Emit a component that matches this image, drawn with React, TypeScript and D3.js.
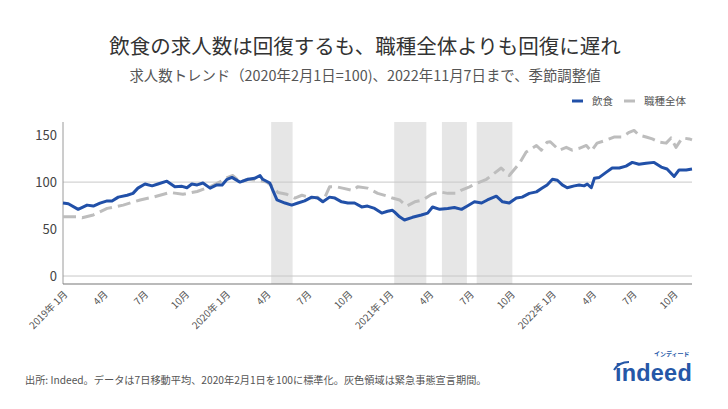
import React from "react";
import * as d3 from "d3";

const TITLE = "飲食の求人数は回復するも、職種全体よりも回復に遅れ";
const SUBTITLE = "求人数トレンド（2020年2月1日=100)、2022年11月7日まで、季節調整値";
const FOOTER = "出所: Indeed。データは7日移動平均、2020年2月1日を100に標準化。灰色領域は緊急事態宣言期間。";
const SERIES_NAMES = ["飲食", "職種全体"];

const yTicks = [0, 50, 100, 150];
const gridValues = [0, 100];

const xTicks: [string, string][] = [
  ["2019-01-01", "2019年 1月"], ["2019-04-01", "4月"], ["2019-07-01", "7月"], ["2019-10-01", "10月"],
  ["2020-01-01", "2020年 1月"], ["2020-04-01", "4月"], ["2020-07-01", "7月"], ["2020-10-01", "10月"],
  ["2021-01-01", "2021年 1月"], ["2021-04-01", "4月"], ["2021-07-01", "7月"], ["2021-10-01", "10月"],
  ["2022-01-01", "2022年 1月"], ["2022-04-01", "4月"], ["2022-07-01", "7月"], ["2022-10-01", "10月"],
];

const emergencyPeriods: [string, string][] = [
  ["2020-04-07", "2020-05-25"],
  ["2021-01-08", "2021-03-21"],
  ["2021-04-25", "2021-06-20"],
  ["2021-07-12", "2021-09-30"],
];

const foodService: [string, number][] = [
  ["2018-12-27", 77.7], ["2019-01-08", 77], ["2019-01-30", 71], ["2019-02-19", 75.5], ["2019-03-05", 74.5],
  ["2019-03-20", 77.6], ["2019-04-05", 80], ["2019-04-16", 79.8], ["2019-04-30", 84], ["2019-05-20", 86],
  ["2019-06-02", 88], ["2019-06-13", 93.6], ["2019-06-29", 98], ["2019-07-15", 96], ["2019-07-28", 98],
  ["2019-08-17", 101], ["2019-09-04", 95], ["2019-09-20", 95.5], ["2019-10-01", 94], ["2019-10-12", 98],
  ["2019-10-24", 97], ["2019-11-06", 99], ["2019-11-22", 93.6], ["2019-12-07", 97], ["2019-12-19", 97],
  ["2019-12-30", 103], ["2020-01-10", 105], ["2020-01-28", 100], ["2020-02-15", 103], ["2020-03-01", 104],
  ["2020-03-13", 107], ["2020-03-19", 103], ["2020-04-04", 99], ["2020-04-11", 91], ["2020-04-20", 81],
  ["2020-05-08", 77.7], ["2020-05-23", 75.5], ["2020-06-06", 77.7], ["2020-06-21", 80], ["2020-07-07", 84],
  ["2020-07-20", 83], ["2020-08-01", 79], ["2020-08-16", 84], ["2020-08-28", 83], ["2020-09-12", 79],
  ["2020-09-26", 77.7], ["2020-10-11", 77.7], ["2020-10-27", 73.6], ["2020-11-09", 74.5], ["2020-11-25", 72],
  ["2020-12-11", 67], ["2020-12-24", 69], ["2021-01-04", 70], ["2021-01-09", 68], ["2021-01-20", 63],
  ["2021-01-31", 59.6], ["2021-02-18", 62.5], ["2021-03-10", 65], ["2021-03-24", 67], ["2021-04-04", 73.5],
  ["2021-04-20", 71], ["2021-05-08", 72], ["2021-05-23", 73], ["2021-06-08", 71], ["2021-06-21", 74.5],
  ["2021-07-07", 79], ["2021-07-23", 77.7], ["2021-08-05", 81], ["2021-08-25", 85], ["2021-09-08", 79],
  ["2021-09-23", 77.7], ["2021-10-09", 83], ["2021-10-22", 84], ["2021-11-07", 88], ["2021-11-23", 89.6],
  ["2021-12-06", 93.6], ["2021-12-17", 97], ["2021-12-29", 103], ["2022-01-09", 102], ["2022-01-20", 97],
  ["2022-01-31", 94], ["2022-02-16", 96], ["2022-02-27", 97], ["2022-03-10", 96], ["2022-03-17", 98],
  ["2022-03-26", 94], ["2022-04-02", 104], ["2022-04-13", 105], ["2022-04-29", 110.6], ["2022-05-12", 115],
  ["2022-05-28", 115], ["2022-06-12", 117], ["2022-06-26", 121], ["2022-07-11", 119], ["2022-07-27", 120],
  ["2022-08-14", 121], ["2022-08-30", 116], ["2022-09-12", 114], ["2022-09-28", 106], ["2022-10-09", 113],
  ["2022-10-25", 113], ["2022-11-07", 114],
];

const allJobs: [string, number][] = [
  ["2018-12-27", 63], ["2019-01-28", 63], ["2019-02-08", 62], ["2019-03-05", 65], ["2019-04-05", 72],
  ["2019-05-11", 75.5], ["2019-06-18", 81], ["2019-07-17", 84], ["2019-08-24", 89], ["2019-09-22", 87],
  ["2019-10-24", 90], ["2019-11-22", 95], ["2019-12-21", 102], ["2019-12-26", 104], ["2020-01-12", 107],
  ["2020-01-28", 100], ["2020-02-15", 103], ["2020-03-08", 102], ["2020-03-28", 100], ["2020-04-11", 95],
  ["2020-04-22", 89], ["2020-05-12", 87], ["2020-05-30", 83], ["2020-06-15", 86], ["2020-07-07", 83],
  ["2020-07-20", 84], ["2020-08-01", 79], ["2020-08-16", 95], ["2020-09-01", 95], ["2020-09-14", 93.6],
  ["2020-10-07", 91], ["2020-10-18", 95], ["2020-11-09", 93.6], ["2020-12-02", 88], ["2020-12-24", 85],
  ["2021-01-04", 83], ["2021-01-20", 81], ["2021-02-05", 74.5], ["2021-02-23", 79], ["2021-03-13", 81],
  ["2021-04-02", 87], ["2021-04-20", 89.6], ["2021-05-08", 88], ["2021-05-28", 88], ["2021-06-08", 91.5],
  ["2021-06-26", 95], ["2021-07-14", 99], ["2021-08-03", 103], ["2021-08-21", 109.6], ["2021-09-05", 115],
  ["2021-09-17", 109.6], ["2021-09-23", 107], ["2021-10-16", 120], ["2021-10-31", 132], ["2021-11-23", 139],
  ["2021-12-04", 134], ["2021-12-17", 142.5], ["2021-12-24", 143], ["2022-01-13", 134], ["2022-01-29", 137],
  ["2022-02-11", 134], ["2022-02-27", 136], ["2022-03-15", 139], ["2022-03-26", 133], ["2022-04-08", 141.5],
  ["2022-04-29", 144.7], ["2022-05-16", 148], ["2022-06-03", 148], ["2022-06-19", 153], ["2022-06-30", 155],
  ["2022-07-11", 150], ["2022-07-27", 148], ["2022-08-10", 146], ["2022-08-26", 142.5], ["2022-09-10", 141.5],
  ["2022-09-21", 147], ["2022-10-02", 137], ["2022-10-16", 147], ["2022-11-01", 146], ["2022-11-07", 145],
];

const FONT = "'Noto Sans CJK JP', 'Noto Sans', sans-serif";
const BLUE = "#2150a8";
const GRAY = "#bdbdbd";
const LOGO_BLUE = "#2557a7";

const W = 728, H = 409;
const plot = { left: 63, right: 692, top: 122, bottom: 284 };

export default function App() {
  const parse = d3.utcParse("%Y-%m-%d");
  const x = d3.scaleUtc()
    .domain([parse("2018-12-27")!, parse("2022-11-07")!])
    .range([plot.left, plot.right]);
  const y = d3.scaleLinear().domain([-8.5, 164]).range([plot.bottom, plot.top]);

  const line = d3.line<[string, number]>()
    .x(d => x(parse(d[0])!))
    .y(d => y(d[1]))
    .curve(d3.curveLinear);

  return (
    <svg width={W} height={H} style={{ position: "absolute", left: 0, top: 0, background: "#fff" }}
      fontFamily={FONT}>
      <rect x={0} y={0} width={W} height={H} fill="#fff" />
      <text x={365} y={54} textAnchor="middle" fontSize={20.5} fill="#333">{TITLE}</text>
      <text x={365} y={81} textAnchor="middle" fontSize={14.4} fill="#555">{SUBTITLE}</text>

      {/* legend */}
      <line x1={572} x2={583} y1={101} y2={101} stroke={BLUE} strokeWidth={3} />
      <text x={592} y={105} fontSize={10.5} fill="#555">{SERIES_NAMES[0]}</text>
      <line x1={624} x2={635} y1={101} y2={101} stroke={GRAY} strokeWidth={3} />
      <text x={644} y={105} fontSize={10.5} fill="#555">{SERIES_NAMES[1]}</text>

      {/* shaded periods */}
      {emergencyPeriods.map(([a, b], i) => (
        <rect key={i} x={x(parse(a)!)} y={plot.top} width={x(parse(b)!) - x(parse(a)!)}
          height={plot.bottom - plot.top} fill="#e6e6e6" />
      ))}

      {/* gridlines */}
      {gridValues.map(v => (
        <line key={v} x1={plot.left} x2={plot.right} y1={y(v)} y2={y(v)} stroke="#c8c8c8" strokeWidth={1} />
      ))}

      {/* axes */}
      <line x1={plot.left} x2={plot.left} y1={plot.top} y2={plot.bottom} stroke="#9a9a9a" strokeWidth={1} />
      <line x1={plot.left} x2={plot.right} y1={plot.bottom} y2={plot.bottom} stroke="#777" strokeWidth={1.2} />

      {yTicks.map(v => (
        <text key={v} x={57} y={y(v) + 4.5} textAnchor="end" fontSize={13} fill="#444">{v}</text>
      ))}

      {xTicks.map(([d, label]) => {
        const px = x(parse(d)!);
        return (
          <text key={d} transform={`translate(${px + 3},${plot.bottom + 11}) rotate(-45)`}
            textAnchor="end" fontSize={9.8} fill="#555">{label}</text>
        );
      })}

      {/* series */}
      <path d={line(allJobs)!} fill="none" stroke={GRAY} strokeWidth={3} strokeDasharray="13 6"
        strokeLinejoin="round" />
      <path d={line(foodService)!} fill="none" stroke={BLUE} strokeWidth={3} strokeLinejoin="round" />

      <text x={25} y={384} fontSize={10.2} fill="#555">{FOOTER}</text>

      {/* indeed logo */}
      <g>
        <text x={654} y={356} fontSize={6} fill={LOGO_BLUE} fontWeight="bold">インディード</text>
        <path d="M614,370 Q619,362 629,362" fill="none" stroke={LOGO_BLUE} strokeWidth={2} />
        <text x={615} y={381} fontSize={23.5} fill={LOGO_BLUE} fontWeight="bold"
          fontFamily="'Liberation Sans', Arial, sans-serif" letterSpacing={0.2}>indeed</text>
      </g>
    </svg>
  );
}
